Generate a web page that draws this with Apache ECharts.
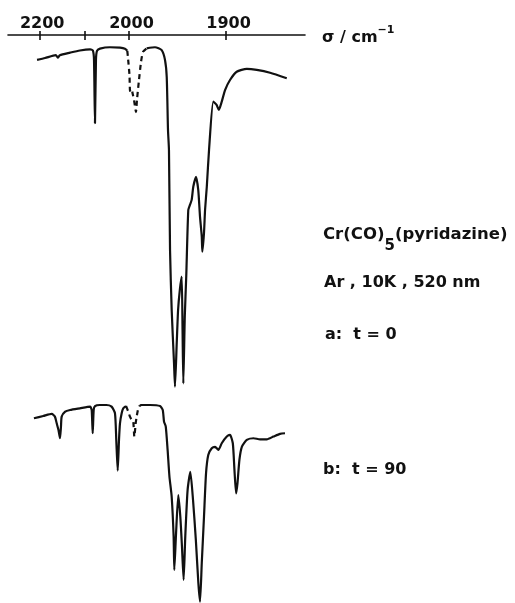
<!DOCTYPE html>
<html>
<head>
<meta charset="utf-8">
<script src="https://cdn.jsdelivr.net/npm/echarts@6/dist/echarts.min.js"></script>
<style>html,body{margin:0;padding:0;background:#fff}#c{width:515px;height:603px}</style>
</head>
<body>
<div id="c"></div>
<script>
// Wavenumber axis ticks / labels (cm^-1)
var tickWavenumbers = [2200, 2100, 2000, 1900];
var labelWavenumbers = [2200, 2000, 1900];

// Spectrum a (t = 0): wavenumber (cm^-1), transmittance (%)
var aSolid1Sigma = [2206, 2188, 2164, 2159, 2155, 2132, 2110, 2087, 2081, 2078.4, 2076.2, 2074, 2071.7, 2065, 2043, 2020, 2009, 2003.8];
var aSolid1T     = [93.1, 93.6, 94.4, 93.7, 94.4, 95.1, 95.7, 96.0, 95.7, 93.1, 75.5, 93.1, 95.6, 96.2, 96.6, 96.5, 96.2, 95.6];
var aDashSigma   = [2003.8, 2002.2, 1999.5, 1999, 1998, 1996.9, 1995.9, 1994.8, 1992.8, 1991.8, 1989.7, 1987.6, 1985.6, 1981.8];
var aDashT       = [95.6, 93.6, 88.9, 84.7, 83.9, 84.4, 83.3, 81.9, 78.6, 81.9, 87.5, 92.5, 95.3, 96.3];
var aSolid2Sigma = [1981.8, 1973.2, 1966.3, 1962.9, 1961.1, 1959.8, 1958.8, 1957.7, 1956, 1953.6, 1952.6, 1950.8, 1949.4, 1947.6, 1945.7, 1944.8, 1944, 1942.5, 1941, 1938.9, 1937.2, 1935.4, 1933.7, 1930.9, 1928.6, 1926.8, 1925, 1924.4, 1922.7, 1921.6, 1919.8, 1917.5, 1913.1, 1909.7, 1907.4, 1904.4, 1901, 1895.9, 1889, 1878.6, 1868.3, 1854.6, 1837.4];
var aSolid2T     = [96.3, 96.6, 95.8, 93.1, 88.3, 73.6, 68.0, 40.3, 23.6, 8.9, 2.3, 14.4, 23.6, 29.2, 32.9, 18.1, 3.2, 21.8, 32.9, 51.4, 52.8, 54.2, 57.9, 60.6, 56.9, 49.5, 44.0, 39.8, 45.0, 51.4, 57.9, 68.1, 81.5, 80.6, 79.2, 81.5, 84.7, 87.5, 89.8, 90.6, 90.3, 89.5, 88.0];

// Spectrum b (t = 90)
var bSolid1Sigma = [2213, 2192, 2173, 2166, 2162, 2158, 2154.6, 2152.4, 2150.8, 2143, 2132, 2110, 2087, 2083.6, 2081.3, 2079.1, 2076.2, 2065, 2050, 2039, 2031.4, 2028.5, 2025.3, 2022.4, 2020.2, 2016.4, 2012.8, 2006.7];
var bSolid1T     = [88.8, 89.9, 90.9, 89.6, 86.4, 83.2, 79.2, 84.8, 89.6, 92.0, 92.8, 93.6, 94.4, 92.8, 81.6, 92.8, 94.7, 95.2, 95.2, 94.4, 91.2, 78.4, 63.6, 78.4, 86.4, 91.2, 93.6, 94.7];
var bDashSigma   = [2006.7, 2001.6, 1999, 1997.2, 1995.6, 1994.5, 1993.1, 1992.1, 1990.4, 1988.7];
var bDashT       = [94.7, 92.0, 89.6, 88.0, 87.2, 80.0, 86.4, 89.6, 93.6, 95.0];
var bSolid2Sigma = [1988.7, 1986.9, 1978.3, 1968, 1965.2, 1963.9, 1962.1, 1960.2, 1958.3, 1956, 1954, 1953.3, 1951.5, 1949.2, 1947.1, 1945.4, 1943.7, 1942, 1939.6, 1936.8, 1934, 1931.1, 1928.5, 1926.8, 1925, 1922.7, 1920.6, 1918.3, 1914.7, 1911.3, 1907.9, 1904.4, 1899.2, 1895.9, 1893, 1891.3, 1889.6, 1888.2, 1886.2, 1883.7, 1878.6, 1871.8, 1864.9, 1858, 1851.2, 1844.3, 1839.2];
var bSolid2T     = [95.0, 95.2, 95.2, 94.7, 92.8, 87.2, 84.8, 73.6, 60.7, 51.1, 31.9, 15.9, 33.5, 51.9, 41.5, 27.1, 11.1, 31.9, 54.3, 63.1, 49.5, 30.3, 9.5, 0.6, 19.1, 41.5, 62.3, 71.2, 74.4, 75.1, 73.6, 76.8, 80.0, 80.8, 76.8, 63.9, 52.7, 57.5, 68.8, 75.1, 78.4, 79.2, 78.7, 78.7, 80.0, 81.3, 81.6];

// The spectrometer scale changes at 2000 cm^-1 (compressed above 2000)
var SCALE_ABOVE = 0.46;
function toAxis(s) { return s <= 2000 ? 2000 - s : -(s - 2000) * SCALE_ABOVE; }
function fromAxis(u) { return u >= 0 ? 2000 - u : 2000 - u / SCALE_ABOVE; }
function pairs(sig, t) { return sig.map(function (s, i) { return [toAxis(s), t[i]]; }); }

var FONT = '"DejaVu Sans", sans-serif';
var X_MIN = -124.7, X_MAX = 181.4;
var GRID_A_H = 360;

var chart = echarts.init(document.getElementById('c'), null, {renderer: 'canvas'});
function line(name, sig, t, grid, dashed) {
  return {
    name: name, type: 'line', xAxisIndex: grid === 0 ? 0 : 2, yAxisIndex: grid,
    data: pairs(sig, t), showSymbol: false, smooth: 0.2, animation: false,
    lineStyle: {color: '#111', width: 2.2, type: dashed ? [5, 4] : 'solid'}
  };
}
chart.setOption({
  animation: false,
  backgroundColor: '#fff',
  grid: [
    {left: 8, width: 297, top: 35, height: GRID_A_H},
    {left: 8, width: 297, top: 395, height: 208}
  ],
  xAxis: [
    {
      gridIndex: 0, type: 'value', position: 'top', min: X_MIN, max: X_MAX,
      axisLine: {show: true, onZero: false, lineStyle: {color: '#111', width: 1.6}},
      axisTick: {show: true, inside: false, length: 4, customValues: tickWavenumbers.map(toAxis), lineStyle: {color: '#111', width: 1.6}},
      axisLabel: {show: true, customValues: labelWavenumbers.map(toAxis), margin: 3, padding: [0, 0, 0, 5],
        formatter: function (v) { return String(Math.round(fromAxis(v))); },
        color: '#111', fontFamily: FONT, fontWeight: 'bold', fontSize: 16},
      splitLine: {show: false},
      name: '{n|σ / cm}{p|−1}', nameLocation: 'end', nameGap: 17,
      nameTextStyle: {rich: {
        n: {fontFamily: FONT, fontWeight: 'bold', fontSize: 16, color: '#111', verticalAlign: 'top', padding: [5, 0, 0, 0]},
        p: {fontFamily: FONT, fontWeight: 'bold', fontSize: 11, color: '#111', verticalAlign: 'top'}
      }}
    },
    {
      gridIndex: 0, type: 'value', position: 'bottom', offset: -GRID_A_H, min: X_MIN, max: X_MAX,
      axisLine: {show: false, onZero: false},
      axisTick: {show: true, inside: false, length: 5, customValues: tickWavenumbers.map(toAxis), lineStyle: {color: '#111', width: 1.6}},
      axisLabel: {show: false}, splitLine: {show: false}
    },
    {
      gridIndex: 1, type: 'value', min: X_MIN, max: X_MAX, show: false, axisLine: {onZero: false}
    }
  ],
  yAxis: [
    {gridIndex: 0, type: 'value', min: 0, max: 100, show: false},
    {gridIndex: 1, type: 'value', min: 0, max: 100, show: false}
  ],
  series: [
    line('a', aSolid1Sigma, aSolid1T, 0, false),
    line('a dashed', aDashSigma, aDashT, 0, true),
    line('a', aSolid2Sigma, aSolid2T, 0, false),
    line('b', bSolid1Sigma, bSolid1T, 1, false),
    line('b dashed', bDashSigma, bDashT, 1, true),
    line('b', bSolid2Sigma, bSolid2T, 1, false)
  ],
  graphic: [
    {type: 'text', x: 323, y: 226, style: {
      text: '{n|Cr(CO)}{s|5}{n|(pyridazine)}',
      rich: {
        n: {fontFamily: FONT, fontWeight: 'bold', fontSize: 16.5, fill: '#111', verticalAlign: 'top'},
        s: {fontFamily: FONT, fontWeight: 'bold', fontSize: 15, fill: '#111', verticalAlign: 'top', padding: [13, 0, 0, 0]}
      }}},
    {type: 'text', x: 324, y: 283, style: {text: 'Ar , 10K , 520 nm', fontFamily: FONT, fontWeight: 'bold', fontSize: 16, fill: '#111', verticalAlign: 'middle'}},
    {type: 'text', x: 325, y: 335, style: {text: 'a:  t = 0', fontFamily: FONT, fontWeight: 'bold', fontSize: 16, fill: '#111', verticalAlign: 'middle'}},
    {type: 'text', x: 323, y: 470, style: {text: 'b:  t = 90', fontFamily: FONT, fontWeight: 'bold', fontSize: 16, fill: '#111', verticalAlign: 'middle'}}
  ]
});
</script>
</body>
</html>
